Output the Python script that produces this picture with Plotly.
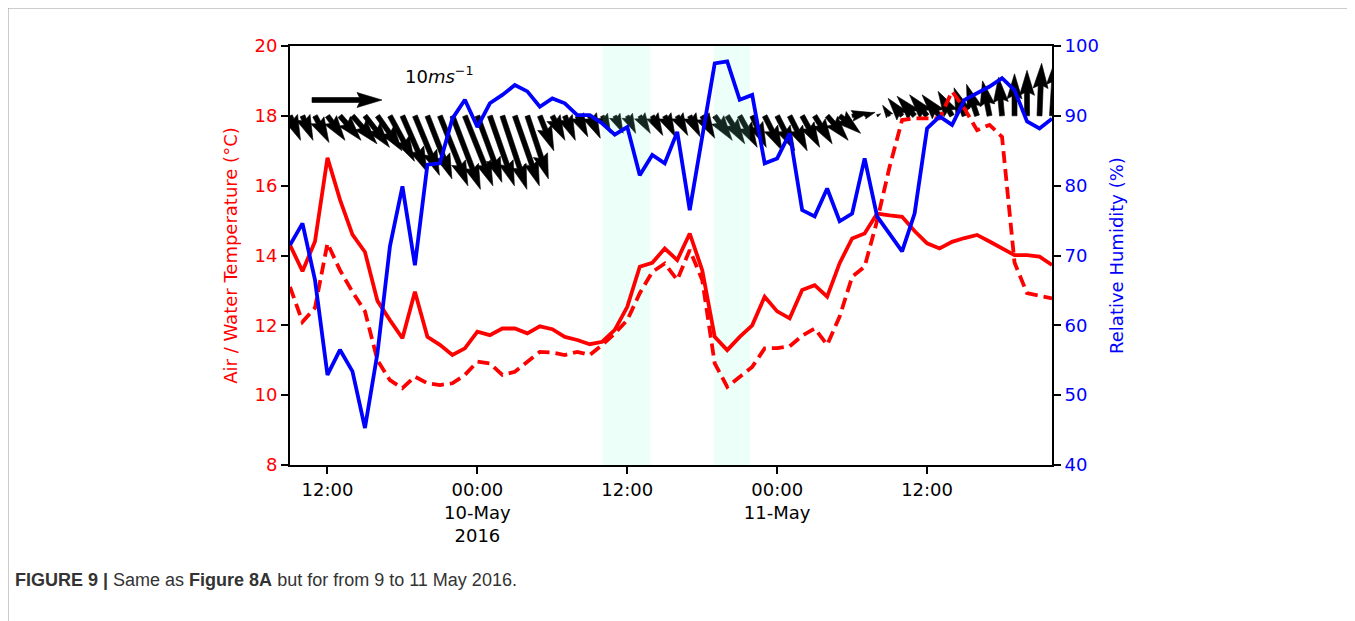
import math
import pandas as pd
import plotly.graph_objects as go

# ---------------- data ----------------
start_time = "2016-05-09 09:00"
n_hours = 62
times = pd.date_range(start_time, periods=n_hours, freq="h")

air_temp = [14.3, 13.55, 14.4, 16.8, 15.6, 14.6, 14.1, 12.7, 12.15, 11.63,
            12.96, 11.67, 11.44, 11.15, 11.34, 11.82, 11.72, 11.91, 11.91, 11.77,
            11.97, 11.89, 11.67, 11.58, 11.46, 11.53, 11.87, 12.53, 13.68, 13.79,
            14.2, 13.87, 14.63, 13.58, 11.67, 11.29, 11.67, 12.0, 12.82, 12.4,
            12.2, 13.01, 13.15, 12.82, 13.78, 14.49, 14.63, 15.2, 15.15, 15.11,
            14.7, 14.35, 14.2, 14.39, 14.5, 14.59, 14.4, 14.2, 14.01, 14.01,
            13.97, 13.73]

water_temp = [13.1, 12.1, 12.5, 14.35, 13.58, 12.96, 12.4, 11.0, 10.43, 10.2,
              10.53, 10.34, 10.29, 10.34, 10.58, 10.96, 10.91, 10.58, 10.67, 10.96,
              11.24, 11.22, 11.15, 11.24, 11.15, 11.44, 11.77, 12.15, 12.92, 13.53,
              13.77, 13.3, 14.16, 13.3, 10.91, 10.24, 10.53, 10.81, 11.34, 11.35,
              11.4, 11.7, 11.91, 11.44, 12.25, 13.39, 13.68, 15.0, 16.54, 17.88,
              17.93, 17.93, 17.93, 18.7, 18.2, 17.59, 17.74, 17.4, 13.8, 12.92,
              12.85, 12.77]

rel_humidity = [71.5, 74.6, 66.5, 52.9, 56.5, 53.4, 45.3, 56.0, 71.3, 79.9,
                68.6, 83.0, 83.2, 89.6, 92.3, 88.4, 91.8, 93.0, 94.4, 93.5,
                91.3, 92.5, 91.8, 90.1, 90.1, 88.9, 87.3, 88.4, 81.5, 84.4,
                83.2, 87.7, 76.5, 87.0, 97.5, 97.8, 92.3, 93.0, 83.2, 83.9,
                87.5, 76.5, 75.6, 79.6, 74.9, 76.0, 83.9, 75.6, 73.2, 70.6,
                76.0, 88.2, 89.9, 88.7, 92.3, 93.2, 94.2, 95.4, 93.7, 89.2,
                88.2, 89.6]

wind_u = [1.5, 1.5, 2.0, 2.5, 3.0, 3.5, 3.5, 3.5, 3.5, 3.5,
          3.5, 3.5, 4.0, 4.0, 4.0, 3.5, 3.5, 3.5, 3.5, 3.0,
          2.0, 1.8, 1.5, 1.5, 1.5, 1.2, 1.2, 1.2, 1.5, 1.5,
          1.5, 1.5, 1.5, 1.8, 2.5, 2.5, 2.5, 2.0, 2.5, 2.5,
          2.5, 2.5, 2.5, 3.0, 3.0, 2.5, 1.5, 0.5, -1.0, -2.0,
          -2.5, -2.5, -2.5, -2.0, -1.5, -1.5, -1.0, -0.5, 0.0, 0.0,
          0.3, 0.5]

wind_v = [-3.5, -3.5, -3.8, -3.5, -3.5, -4.0, -4.5, -5.0, -6.5, -8.0,
          -8.5, -9.0, -10.0, -10.5, -10.0, -9.5, -10.0, -10.5, -10.0, -9.0,
          -5.0, -3.5, -3.5, -3.0, -3.2, -2.5, -2.5, -2.5, -2.5, -2.8,
          -3.0, -2.8, -3.0, -3.2, -3.5, -4.0, -4.5, -4.5, -5.0, -5.0,
          -5.0, -4.5, -4.0, -3.5, -2.5, 0.5, 0.5, 0.3, 1.5, 2.5,
          2.8, 3.0, 3.0, 3.5, 4.0, 4.5, 5.0, 5.5, 6.0, 6.5,
          7.5, 8.0]

shade_periods = [("2016-05-10 10:00", "2016-05-10 13:52"),
                 ("2016-05-10 18:56", "2016-05-10 21:49")]

x_tick_vals = ["2016-05-09 12:00", "2016-05-10 00:00", "2016-05-10 12:00",
               "2016-05-11 00:00", "2016-05-11 12:00"]
x_tick_text = ["12:00", "00:00<br>10-May<br>2016", "12:00", "00:00<br>11-May", "12:00"]

x_range = ["2016-05-09 09:00", "2016-05-11 22:00"]
temp_range = [8, 20]
rh_range = [40, 100]
arrow_base_temp = 18
key_speed = 10

# ---------------- layout geometry ----------------
OFF = 8  # page body margin offset
W, H = 1355 - OFF, 621 - OFF
plot_left, plot_right, plot_top, plot_bottom = 290, 1052, 46, 465  # page pixels
ML = plot_left - OFF
MT = plot_top - OFF
plot_w = plot_right - plot_left
plot_h = plot_bottom - plot_top
MR = W - ML - plot_w
MB = H - MT - plot_h
hours_span = (pd.Timestamp(x_range[1]) - pd.Timestamp(x_range[0])).total_seconds() / 3600
px_per_hour = plot_w / hours_span
px_per_deg = plot_h / (temp_range[1] - temp_range[0])
px_per_ms = 7.0

# quiver arrow style (matplotlib-like, in shaft widths)
SHAFT_PX = 5.0
HEAD_W, HEAD_L, HEAD_AL = 3.0, 5.0, 4.5

FONT = "DejaVu Sans"
RED = "#ff0000"
BLUE = "#0000ff"
SHADE = "rgba(127,255,212,0.15)"


def px_to_paper_x(px):
    return (px - plot_left) / plot_w


def px_to_paper_y(py):
    return (plot_bottom - py) / plot_h


def fmt(ts):
    return pd.Timestamp(ts).strftime("%Y-%m-%d %H:%M:%S.%f")[:-3]


def arrow_polygon(tail_time, tail_temp, u, v):
    """Filled quiver arrow (matplotlib geometry) converted to data coordinates."""
    length_px = math.hypot(u, v) * px_per_ms
    L = length_px / SHAFT_PX
    xs = [0, L - HEAD_AL, L - HEAD_L, L, L - HEAD_L, L - HEAD_AL, 0, 0]
    ys = [0.5, 0.5, 0.5 * HEAD_W, 0, -0.5 * HEAD_W, -0.5, -0.5, 0.5]
    if L < HEAD_L:
        s = L / HEAD_L
        xs = [s * q for q in [0, HEAD_L - HEAD_AL, 0, HEAD_L, 0, HEAD_L - HEAD_AL, 0, 0]]
        ys = [s * q for q in ys]
    ang = math.atan2(v, u)
    ca, sa = math.cos(ang), math.sin(ang)
    px_t, px_y = [], []
    tail_time = pd.Timestamp(tail_time)
    for a, b in zip(xs, ys):
        dx = (a * ca - b * sa) * SHAFT_PX
        dy = (a * sa + b * ca) * SHAFT_PX
        px_t.append(fmt(tail_time + pd.Timedelta(hours=dx / px_per_hour)))
        px_y.append(tail_temp + dy / px_per_deg)
    return px_t, px_y


fig = go.Figure()

# wind arrows
arr_x, arr_y = [], []
for t, u, v in zip(times, wind_u, wind_v):
    ax_, ay_ = arrow_polygon(t, arrow_base_temp, u, v)
    arr_x += ax_ + [None]
    arr_y += ay_ + [None]

# quiver key
key_tail_t = pd.Timestamp(x_range[0]) + pd.Timedelta(hours=(312 - plot_left) / px_per_hour)
key_y = temp_range[0] + (plot_bottom - 100) / px_per_deg
kx, ky = arrow_polygon(key_tail_t, key_y, key_speed, 0)
arr_x += kx + [None]
arr_y += ky + [None]

fig.add_trace(go.Scatter(x=arr_x, y=arr_y, mode="lines", fill="toself", fillcolor="black",
                         line=dict(color="black", width=0.6), name="Wind", yaxis="y",
                         hoverinfo="skip"))

# shaded periods (drawn over the arrows, under the lines)
for s0, s1 in shade_periods:
    fig.add_trace(go.Scatter(x=[s0, s1, s1, s0, s0],
                             y=[temp_range[0], temp_range[0], temp_range[1], temp_range[1], temp_range[0]],
                             mode="lines", fill="toself", fillcolor=SHADE,
                             line=dict(width=0, color=SHADE), yaxis="y", hoverinfo="skip"))

fig.add_trace(go.Scatter(x=times, y=air_temp, mode="lines", name="Air temperature",
                         line=dict(color=RED, width=3.8), yaxis="y"))
fig.add_trace(go.Scatter(x=times, y=water_temp, mode="lines", name="Water temperature",
                         line=dict(color=RED, width=3.8, dash="12px,6px"), yaxis="y"))
fig.add_trace(go.Scatter(x=times, y=rel_humidity, mode="lines", name="Relative humidity",
                         line=dict(color=BLUE, width=3.8), yaxis="y2"))

shapes = []
# outer frame lines (top and left)
shapes.append(dict(type="line", xref="paper", yref="paper",
                   x0=px_to_paper_x(8), x1=px_to_paper_x(1360),
                   y0=px_to_paper_y(8), y1=px_to_paper_y(8),
                   line=dict(color="#9a9a9a", width=1)))
shapes.append(dict(type="line", xref="paper", yref="paper",
                   x0=px_to_paper_x(8), x1=px_to_paper_x(8),
                   y0=px_to_paper_y(8), y1=px_to_paper_y(630),
                   line=dict(color="#9a9a9a", width=1)))

annotations = []
annotations.append(dict(xref="paper", yref="paper", x=px_to_paper_x(403), y=px_to_paper_y(75),
                        xanchor="left", yanchor="middle", showarrow=False,
                        text="10<i>ms</i><sup>−1</sup>",
                        font=dict(family=FONT, size=18, color="black")))

# caption
annotations.append(dict(xref="paper", yref="paper", x=px_to_paper_x(13), y=px_to_paper_y(580),
                        xanchor="left", yanchor="middle", showarrow=False,
                        text="<b>FIGURE 9 |</b> Same as <b>Figure 8A</b> but for from 9 to 11 May 2016.",
                        font=dict(family="Liberation Sans", size=18, color="#333333")))

fig.update_layout(
    width=W, height=H,
    margin=dict(l=ML, r=MR, t=MT, b=MB, autoexpand=False),
    paper_bgcolor="white", plot_bgcolor="white",
    showlegend=False,
    shapes=shapes,
    annotations=annotations,
    font=dict(family=FONT, size=18, color="black"),
    xaxis=dict(range=x_range, type="date", tickvals=x_tick_vals, ticktext=x_tick_text,
               showgrid=False, zeroline=False, showline=True, linecolor="black", linewidth=2,
               mirror=True, ticks="outside", ticklen=7, tickwidth=2, tickcolor="black",
               tickfont=dict(family=FONT, size=18, color="black")),
    yaxis=dict(range=temp_range, dtick=2, showgrid=False, zeroline=False, showline=True,
               linecolor="black", linewidth=2, ticks="outside", ticklen=7, tickwidth=2,
               tickcolor="black", tickfont=dict(family=FONT, size=18, color=RED),
               title=dict(text="Air / Water Temperature (°C)", standoff=12,
                          font=dict(family=FONT, size=18, color=RED))),
    yaxis2=dict(range=rh_range, dtick=10, overlaying="y", side="right", showgrid=False,
                zeroline=False, showline=True, linecolor="black", linewidth=2, ticks="outside",
                ticklen=7, tickwidth=2, tickcolor="black",
                tickfont=dict(family=FONT, size=18, color=BLUE),
                title=dict(text="Relative Humidity (%)", standoff=12,
                           font=dict(family=FONT, size=18, color=BLUE))),
)

fig.write_html("out.html")
